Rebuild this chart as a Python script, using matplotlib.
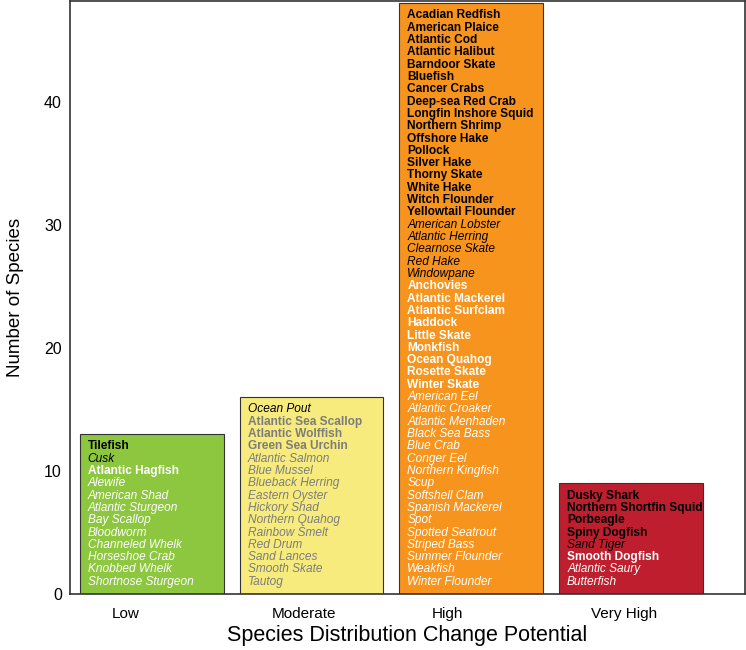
import numpy as np
import matplotlib
matplotlib.use("Agg")
import matplotlib.pyplot as plt

plt.rcParams['font.family'] = ['Liberation Sans', 'DejaVu Sans']

# categories and bar heights
categories = ['Low', 'Moderate', 'High', 'Very High']
heights = [13, 16, 48, 9]
bar_colors = ['#8DC63F', '#F6EB7C', '#F7941E', '#BE1E2D']

# species names per bar, top to bottom
low_names = ['Tilefish', 'Cusk', 'Atlantic Hagfish', 'Alewife', 'American Shad',
             'Atlantic Sturgeon', 'Bay Scallop', 'Bloodworm', 'Channeled Whelk',
             'Horseshoe Crab', 'Knobbed Whelk', 'Shortnose Sturgeon']
moderate_names = ['Ocean Pout', 'Atlantic Sea Scallop', 'Atlantic Wolffish',
                  'Green Sea Urchin', 'Atlantic Salmon', 'Blue Mussel',
                  'Blueback Herring', 'Eastern Oyster', 'Hickory Shad',
                  'Northern Quahog', 'Rainbow Smelt', 'Red Drum', 'Sand Lances',
                  'Smooth Skate', 'Tautog']
high_names = ['Acadian Redfish', 'American Plaice', 'Atlantic Cod', 'Atlantic Halibut',
              'Barndoor Skate', 'Bluefish', 'Cancer Crabs', 'Deep-sea Red Crab',
              'Longfin Inshore Squid', 'Northern Shrimp', 'Offshore Hake', 'Pollock',
              'Silver Hake', 'Thorny Skate', 'White Hake', 'Witch Flounder',
              'Yellowtail Flounder', 'American Lobster', 'Atlantic Herring',
              'Clearnose Skate', 'Red Hake', 'Windowpane', 'Anchovies',
              'Atlantic Mackerel', 'Atlantic Surfclam', 'Haddock', 'Little Skate',
              'Monkfish', 'Ocean Quahog', 'Rosette Skate', 'Winter Skate',
              'American Eel', 'Atlantic Croaker', 'Atlantic Menhaden', 'Black Sea Bass',
              'Blue Crab', 'Conger Eel', 'Northern Kingfish', 'Scup', 'Softshell Clam',
              'Spanish Mackerel', 'Spot', 'Spotted Seatrout', 'Striped Bass',
              'Summer Flounder', 'Weakfish', 'Winter Flounder']
very_high_names = ['Dusky Shark', 'Northern Shortfin Squid', 'Porbeagle', 'Spiny Dogfish',
                   'Sand Tiger', 'Smooth Dogfish', 'Atlantic Saury', 'Butterfish']

# style codes: BK bold dark, IK italic dark, BW bold light, IW italic light
low_styles = ['BK', 'IK', 'BW'] + ['IW'] * 9
moderate_styles = ['IK'] + ['BW'] * 3 + ['IW'] * 11
high_styles = ['BK'] * 17 + ['IK'] * 5 + ['BW'] * 9 + ['IW'] * 16
very_high_styles = ['BK'] * 4 + ['IK', 'BW', 'IW', 'IW']

all_names = [low_names, moderate_names, high_names, very_high_names]
all_styles = [low_styles, moderate_styles, high_styles, very_high_styles]
light_colors = ['white', '#7d7d7d', 'white', 'white']

fig = plt.figure(figsize=(7.46, 6.5), dpi=100)
ax = fig.add_axes([0.094, 0.086, 0.904, 0.913])

x = np.arange(len(categories))
width = 0.9
ax.bar(x, heights, width=width, color=bar_colors, edgecolor='#333333', linewidth=0.8)

for i, (names, styles) in enumerate(zip(all_names, all_styles)):
    top = heights[i] - 1
    for j, (name, st) in enumerate(zip(names, styles)):
        color = 'black' if st[1] == 'K' else light_colors[i]
        ax.text(x[i] - width / 2 + 0.05, top - j, name,
                ha='left', va='center', fontsize=8.6,
                fontweight='bold' if st[0] == 'B' else 'normal',
                fontstyle='italic' if st[0] == 'I' else 'normal',
                color=color)

ax.set_xlim(-0.51, 3.71)
ax.set_ylim(0, 48.2)
ax.set_xticks(x - width / 2 + 0.2)
ax.set_xticklabels(categories, ha='left', fontsize=11)
ax.set_yticks([0, 10, 20, 30, 40])
ax.tick_params(axis='both', length=0)
ax.tick_params(axis='y', labelsize=11.5, pad=6)
ax.tick_params(axis='x', pad=9)

for sp in ax.spines.values():
    sp.set_color('#333333')
    sp.set_linewidth(1.2)

ax.set_ylabel('Number of Species', fontsize=13.5, labelpad=14)
ax.set_xlabel('Species Distribution Change Potential', fontsize=15.5, labelpad=3)

fig.savefig('out.png', dpi=100)
